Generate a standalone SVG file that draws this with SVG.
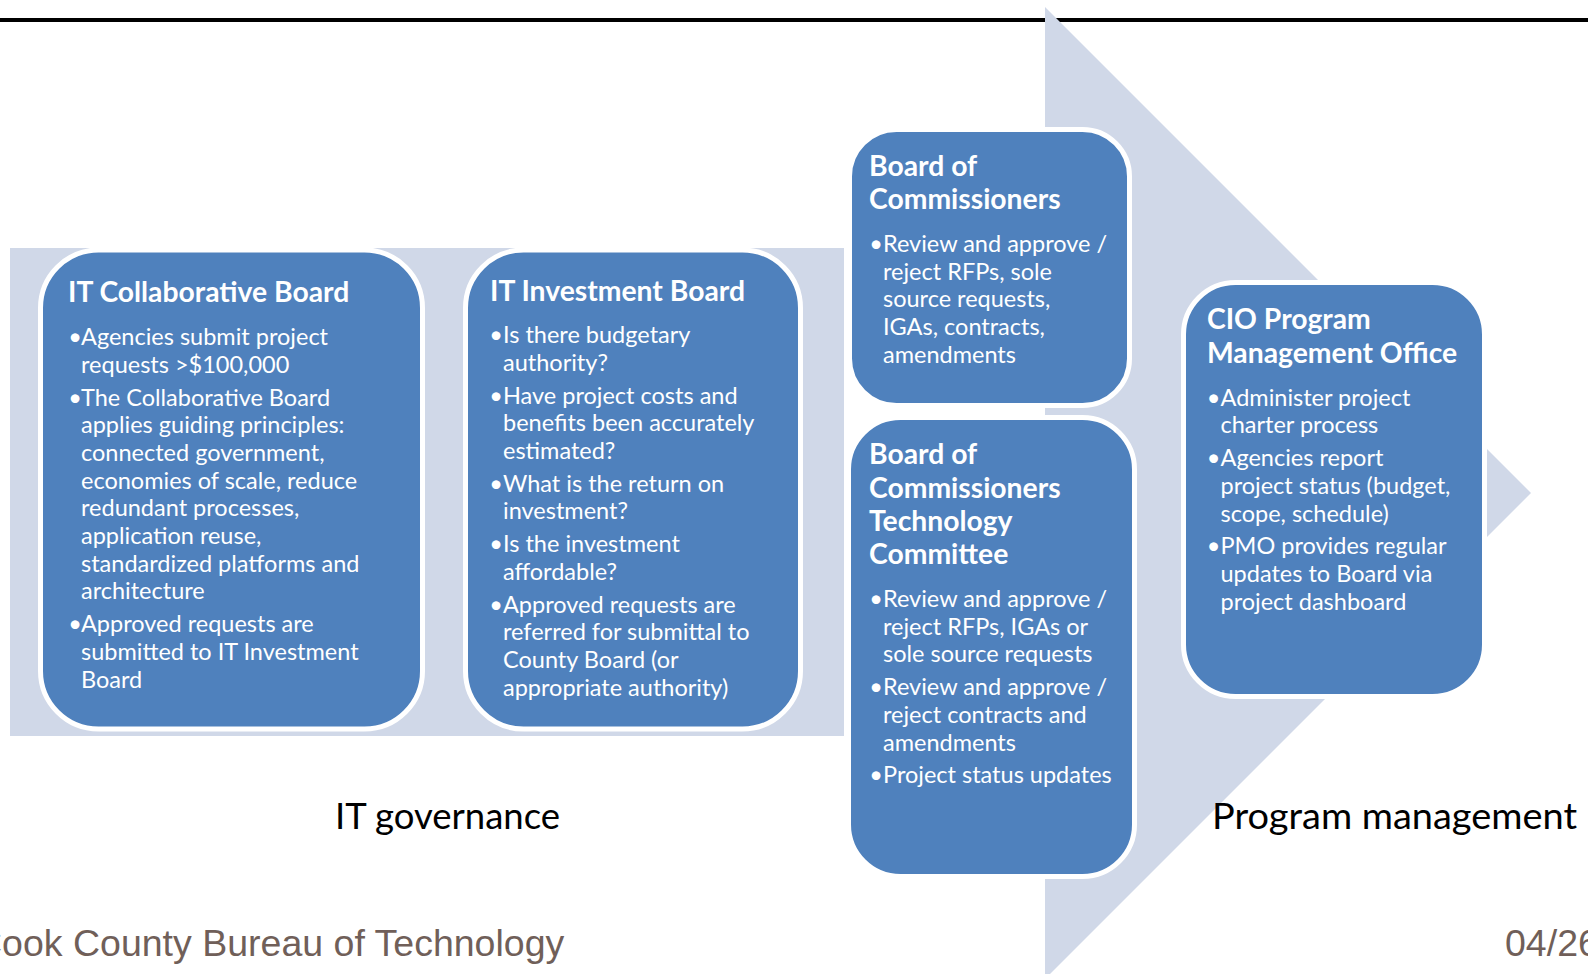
<svg xmlns="http://www.w3.org/2000/svg" width="1588" height="974" viewBox="0 0 1588 974">
<style>
.box{fill:#4F81BD;stroke:#FFFFFF;stroke-width:5}
.lt{fill:#D0D8E8}
.t{font-family:Lato,"Open Sans",sans-serif;fill:#FFFFFF;font-weight:bold;font-size:28.3px}
.b{font-family:Lato,"Open Sans",sans-serif;fill:#FFFFFF;font-size:23.5px}
.bu{text-anchor:middle}
.lab{font-family:Lato,"Open Sans",sans-serif;fill:#000000;font-size:37.5px}
.ft{font-family:"Liberation Sans",Arial,sans-serif;fill:#705F59;font-size:37.5px}
</style>
<rect x="0" y="18" width="1588" height="4" fill="#000000"/>
<g id="background">
<rect class="lt" x="10" y="248" width="834" height="488"/>
<polygon class="lt" points="1045,7 1531,493 1045,979"/>
</g>
<g id="connectors"></g>
<g id="it-collaborative-board">
<rect class="box" x="40.5" y="250" width="382" height="479" rx="58"/>
<text class="t" x="68" y="302">IT Collaborative Board</text>
<text class="b"><tspan class="bu" x="75" y="345">•</tspan><tspan x="81" y="345">Agencies submit project</tspan><tspan x="81" y="372.7">requests &gt;$100,000</tspan><tspan class="bu" x="75" y="405.5">•</tspan><tspan x="81" y="405.5">The Collaborative Board</tspan><tspan x="81" y="433.2">applies guiding principles:</tspan><tspan x="81" y="460.9">connected government,</tspan><tspan x="81" y="488.6">economies of scale, reduce</tspan><tspan x="81" y="516.3">redundant processes,</tspan><tspan x="81" y="544">application reuse,</tspan><tspan x="81" y="571.7">standardized platforms and</tspan><tspan x="81" y="599.4">architecture</tspan><tspan class="bu" x="75" y="632.2">•</tspan><tspan x="81" y="632.2">Approved requests are</tspan><tspan x="81" y="659.9">submitted to IT Investment</tspan><tspan x="81" y="687.6">Board</tspan></text>
</g>
<g id="it-investment-board">
<rect class="box" x="465.5" y="250" width="335" height="479" rx="58"/>
<text class="t" x="490" y="301">IT Investment Board</text>
<text class="b"><tspan class="bu" x="496" y="343">•</tspan><tspan x="503" y="343">Is there budgetary</tspan><tspan x="503" y="370.7">authority?</tspan><tspan class="bu" x="496" y="403.5">•</tspan><tspan x="503" y="403.5">Have project costs and</tspan><tspan x="503" y="431.2">benefits been accurately</tspan><tspan x="503" y="458.9">estimated?</tspan><tspan class="bu" x="496" y="491.7">•</tspan><tspan x="503" y="491.7">What is the return on</tspan><tspan x="503" y="519.4">investment?</tspan><tspan class="bu" x="496" y="552.2">•</tspan><tspan x="503" y="552.2">Is the investment</tspan><tspan x="503" y="579.9">affordable?</tspan><tspan class="bu" x="496" y="612.7">•</tspan><tspan x="503" y="612.7">Approved requests are</tspan><tspan x="503" y="640.4">referred for submittal to</tspan><tspan x="503" y="668.1">County Board (or</tspan><tspan x="503" y="695.8">appropriate authority)</tspan></text>
</g>
<g id="board-of-commissioners">
<rect class="box" x="849.5" y="129.5" width="280" height="276" rx="47"/>
<text class="t"><tspan x="869" y="176">Board of</tspan><tspan x="869" y="209.3">Commissioners</tspan></text>
<text class="b"><tspan class="bu" x="876" y="251.8">•</tspan><tspan x="883" y="251.8">Review and approve /</tspan><tspan x="883" y="279.5">reject RFPs, sole</tspan><tspan x="883" y="307.2">source requests,</tspan><tspan x="883" y="334.9">IGAs, contracts,</tspan><tspan x="883" y="362.6">amendments</tspan></text>
</g>
<g id="board-technology-committee">
<rect class="box" x="848.5" y="417.5" width="286" height="459" rx="52"/>
<text class="t"><tspan x="869" y="464.3">Board of</tspan><tspan x="869" y="497.6">Commissioners</tspan><tspan x="869" y="530.9">Technology</tspan><tspan x="869" y="564.2">Committee</tspan></text>
<text class="b"><tspan class="bu" x="876" y="607">•</tspan><tspan x="883" y="607">Review and approve /</tspan><tspan x="883" y="634.7">reject RFPs, IGAs or</tspan><tspan x="883" y="662.4">sole source requests</tspan><tspan class="bu" x="876" y="695.2">•</tspan><tspan x="883" y="695.2">Review and approve /</tspan><tspan x="883" y="722.9">reject contracts and</tspan><tspan x="883" y="750.6">amendments</tspan><tspan class="bu" x="876" y="783.4">•</tspan><tspan x="883" y="783.4">Project status updates</tspan></text>
</g>
<g id="cio-pmo">
<rect class="box" x="1183.5" y="282.5" width="301" height="414" rx="52"/>
<text class="t"><tspan x="1207" y="329.3">CIO Program</tspan><tspan x="1207" y="362.8">Management Office</tspan></text>
<text class="b"><tspan class="bu" x="1213.5" y="405.7">•</tspan><tspan x="1220.5" y="405.7">Administer project</tspan><tspan x="1220.5" y="433.4">charter process</tspan><tspan class="bu" x="1213.5" y="466.2">•</tspan><tspan x="1220.5" y="466.2">Agencies report</tspan><tspan x="1220.5" y="493.9">project status (budget,</tspan><tspan x="1220.5" y="521.6">scope, schedule)</tspan><tspan class="bu" x="1213.5" y="554.4">•</tspan><tspan x="1220.5" y="554.4">PMO provides regular</tspan><tspan x="1220.5" y="582.1">updates to Board via</tspan><tspan x="1220.5" y="609.8">project dashboard</tspan></text>
</g>
<g id="labels">
<text class="lab" x="335" y="829" textLength="225" lengthAdjust="spacingAndGlyphs">IT governance</text>
<text class="lab" x="1212" y="829" textLength="365" lengthAdjust="spacingAndGlyphs">Program management</text>
</g>
<g id="footer">
<text class="ft" x="-25" y="956">Cook County Bureau of Technology</text>
<text class="ft" x="1505" y="956">04/26</text>
</g>
</svg>
